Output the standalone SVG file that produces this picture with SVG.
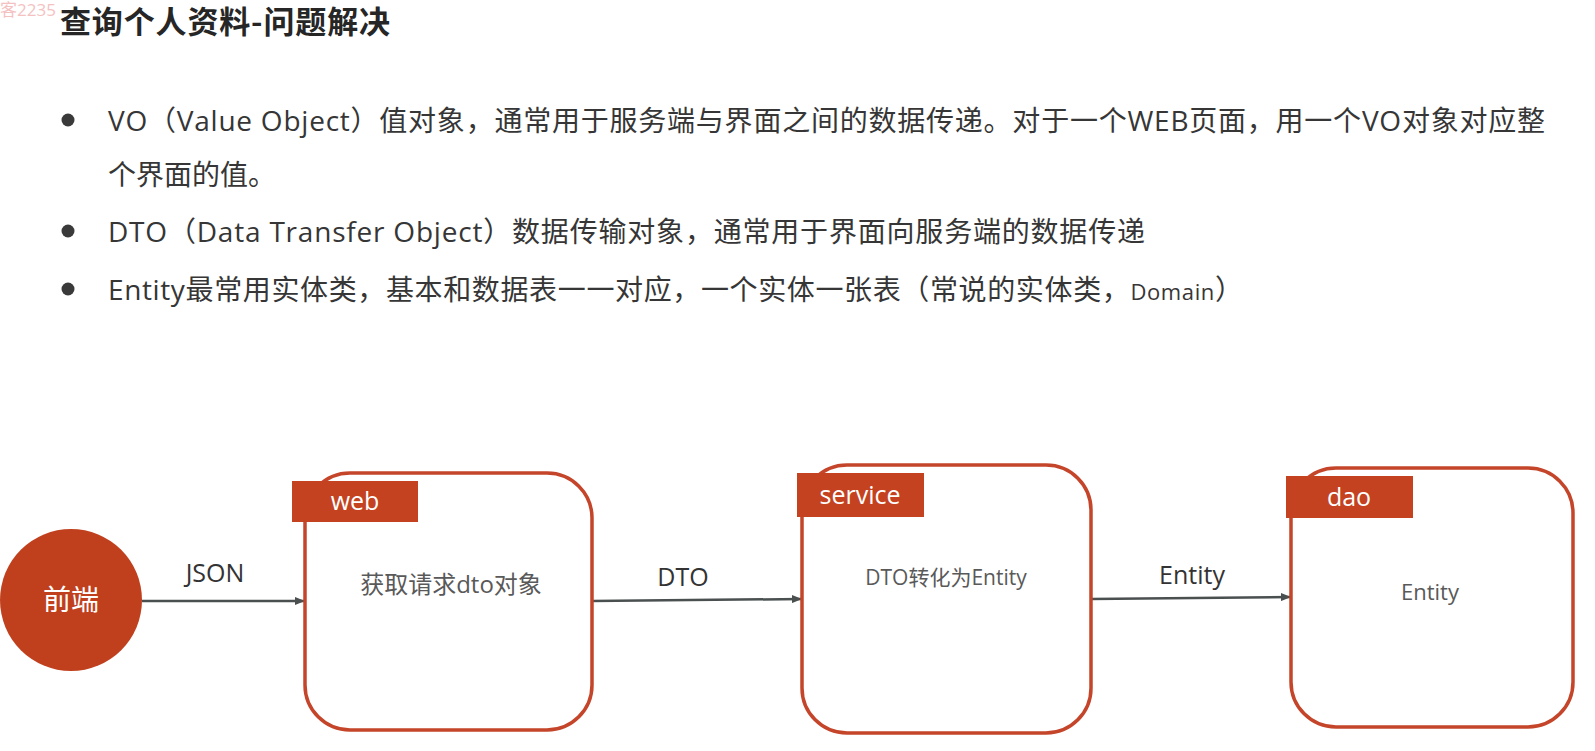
<svg xmlns="http://www.w3.org/2000/svg" width="1595" height="751" viewBox="0 0 1595 751">
  <style>
    .title { font-family: "Noto Sans CJK SC", "Noto Sans", sans-serif; font-weight: 700; font-size: 31px; fill: #262626; }
    .mark { font-family: "Open Sans", "Noto Sans CJK SC", sans-serif; font-size: 17px; fill: #f0a8a8; opacity: 0.7; }
    .body { font-family: "Open Sans", "Noto Sans CJK SC", sans-serif; font-size: 28px; fill: #363636; }
    .dot { fill: #3a3a3a; }
    .box { fill: #ffffff; stroke: #c4452a; stroke-width: 3.5; }
    .tab { fill: #c4421f; }
    .tabtxt { font-family: "Open Sans", "Noto Sans CJK SC", sans-serif; font-size: 25px; fill: #ffffff; text-anchor: middle; }
    .inner { font-family: "Open Sans", "Noto Sans CJK SC", sans-serif; fill: #595959; text-anchor: middle; }
    .edge { stroke: #4a4f4f; stroke-width: 2.5; fill: none; marker-end: url(#arrow); }
    .elabel { font-family: "Open Sans", "Noto Sans CJK SC", sans-serif; font-size: 25px; fill: #333333; text-anchor: middle; }
  </style>
  <defs>
    <marker id="arrow" viewBox="0 0 10 8" refX="10" refY="4" markerWidth="10" markerHeight="8" markerUnits="userSpaceOnUse" orient="auto">
      <path d="M0,0 L10,4 L0,8 Z" fill="#4a4f4f"/>
    </marker>
  </defs>

  <rect x="0" y="0" width="1595" height="751" fill="#ffffff"/>

  <!-- corner mark -->
  <text class="mark" x="0" y="16">客2235</text>

  <!-- heading -->
  <text class="title" x="60" y="33" textLength="330" lengthAdjust="spacing">查询个人资料-问题解决</text>

  <!-- bullet list -->
  <g id="bullets">
    <circle class="dot" cx="68" cy="120" r="6.5"/>
    <text class="body" x="108" y="131" textLength="1437" lengthAdjust="spacing">VO（Value Object）值对象，通常用于服务端与界面之间的数据传递。对于一个WEB页面，用一个VO对象对应整</text>
    <text class="body" x="108" y="185">个界面的值。</text>
    <circle class="dot" cx="68" cy="231" r="6.5"/>
    <text class="body" x="108" y="242" textLength="1037" lengthAdjust="spacing">DTO（Data Transfer Object）数据传输对象，通常用于界面向服务端的数据传递</text>
    <circle class="dot" cx="68" cy="289" r="6.5"/>
    <text class="body" x="108" y="300" textLength="1135" lengthAdjust="spacing">Entity最常用实体类，基本和数据表一一对应，一个实体一张表（常说的实体类，<tspan font-size="22px">Domain</tspan>）</text>
  </g>

  <!-- connectors -->
  <g id="connectors">
    <line class="edge" x1="142" y1="601" x2="305" y2="601"/>
    <text class="elabel" x="215" y="582">JSON</text>
    <line class="edge" x1="592" y1="601" x2="802" y2="599"/>
    <text class="elabel" x="683" y="586">DTO</text>
    <line class="edge" x1="1091" y1="599" x2="1291" y2="597"/>
    <text class="elabel" x="1192" y="584">Entity</text>
  </g>

  <!-- client -->
  <g id="frontend">
    <circle cx="71" cy="600" r="71" fill="#c0401e"/>
    <text x="71" y="610" font-family="Noto Sans CJK SC, sans-serif" font-size="28" fill="#ffffff" text-anchor="middle">前端</text>
  </g>

  <!-- web layer -->
  <g id="web">
    <rect class="box" x="305" y="473" width="287" height="257" rx="45" ry="45"/>
    <rect class="tab" x="292" y="481" width="126" height="41"/>
    <text class="tabtxt" x="355" y="510">web</text>
    <text class="inner" x="451" y="593" font-size="24">获取请求dto对象</text>
  </g>

  <!-- service layer -->
  <g id="service">
    <rect class="box" x="802" y="465" width="289" height="268" rx="45" ry="45"/>
    <rect class="tab" x="797" y="473" width="127" height="44"/>
    <text class="tabtxt" x="860" y="504">service</text>
    <text class="inner" x="946" y="585" font-size="21">DTO转化为Entity</text>
  </g>

  <!-- dao layer -->
  <g id="dao">
    <rect class="box" x="1291" y="468" width="282" height="259" rx="45" ry="45"/>
    <rect class="tab" x="1286" y="476" width="127" height="42"/>
    <text class="tabtxt" x="1349" y="506">dao</text>
    <text class="inner" x="1430" y="600" font-size="22">Entity</text>
  </g>
</svg>
